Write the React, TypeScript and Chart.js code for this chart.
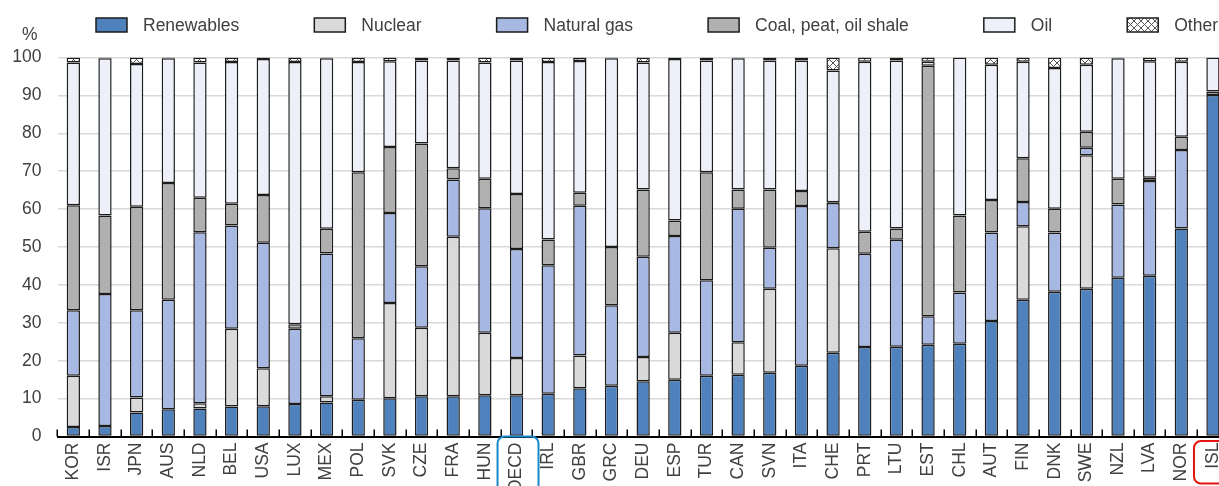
import React, { useEffect, useRef } from "react";
import { Chart, registerables } from "chart.js";

Chart.register(...registerables);

const categories = ["KOR","ISR","JPN","AUS","NLD","BEL","USA","LUX","MEX","POL","SVK","CZE","FRA","HUN","OECD","IRL","GBR","GRC","DEU","ESP","TUR","CAN","SVN","ITA","CHE","PRT","LTU","EST","CHL","AUT","FIN","DNK","SWE","NZL","LVA","NOR","ISL"];

const renewables = [2.5,2.8,6.3,7.2,7.4,7.9,8.0,8.6,9.0,9.7,10.1,10.6,10.6,10.9,10.9,11.3,12.7,13.4,14.6,15.0,16.0,16.3,16.8,18.7,22.1,23.6,23.7,24.2,24.5,30.5,36.1,38.2,39.0,41.9,42.4,54.9,90.1];
const nuclear = [13.5,0,4.0,0,1.4,20.5,10.0,0,1.6,0,25.1,18.1,42.1,16.5,9.8,0,8.7,0,6.4,12.4,0,8.6,22.2,0,27.6,0,0,0,0,0,19.4,0,35.2,0,0,0,0];
const naturalGas = [17.3,34.8,23.0,28.9,45.1,27.3,33.1,19.8,37.7,16.2,23.8,16.2,15.1,32.8,28.8,33.9,39.5,21.2,26.4,25.5,25.2,35.2,10.8,42.1,11.9,24.6,28.2,7.5,13.5,23.3,6.4,15.6,2.0,19.3,25.0,20.7,0];
const coal = [27.7,20.7,27.3,30.8,9.1,5.7,12.6,1.2,6.5,43.8,17.4,32.4,3.0,7.8,14.5,6.8,3.4,15.4,17.8,4.1,28.5,5.1,15.4,4.0,0.2,5.8,3.0,66.1,20.3,8.6,11.5,6.3,4.2,6.8,0.9,3.5,0.9];
const oil = [37.7,41.5,37.7,32.9,35.7,37.4,35.9,69.2,45.0,29.1,22.6,21.9,28.4,30.7,35.2,46.8,34.8,49.8,33.5,42.6,29.5,34.6,34.0,34.4,34.8,44.9,44.3,1.1,41.7,35.7,25.5,37.1,17.7,31.8,30.7,19.8,9.0];
const other = [1.3,0.2,1.7,0.2,1.3,1.2,0.4,1.2,0.2,1.2,1.0,0.8,0.8,1.3,0.8,1.2,0.9,0.2,1.3,0.4,0.8,0.2,0.8,0.8,3.4,1.1,0.8,1.1,0,1.9,1.1,2.8,1.9,0.2,1.0,1.1,0];

const yTicks = [0,10,20,30,40,50,60,70,80,90,100];
const seriesNames = ["Renewables","Nuclear","Natural gas","Coal, peat, oil shale","Oil","Other"];
const highlighted = [
  { label: "OECD", color: "#1b87c9", top: 0, height: 70 },
  { label: "ISL", color: "#e3160f", top: 4.5, height: 42.5 },
];

const FONT = "'Liberation Sans', Arial, sans-serif";
const FSIZE = 17.5;
const TEXT = "#404040";
const BORDER = "#1c1c1c";

function makeHatch(): CanvasPattern | string {
  const c = document.createElement("canvas");
  c.width = 7; c.height = 7;
  const g = c.getContext("2d");
  if (!g) return "#ffffff";
  g.fillStyle = "#ffffff";
  g.fillRect(0, 0, 7, 7);
  g.strokeStyle = "#555555";
  g.lineWidth = 1;
  g.beginPath();
  g.moveTo(0, 0); g.lineTo(7, 7);
  g.moveTo(7, 0); g.lineTo(0, 7);
  g.stroke();
  return g.createPattern(c, "repeat") || "#ffffff";
}

const nz = (arr: number[]) => arr.map((v) => (v === 0 ? null : v));

export default function App() {
  const ref = useRef<HTMLCanvasElement | null>(null);

  useEffect(() => {
    document.body.style.margin = "0";
    document.body.style.overflow = "hidden";
    const canvas = ref.current;
    if (!canvas) return;
    const hatch = makeHatch();
    const colors = ["#4f81bd", "#dadada", "#a7b8e2", "#b0b0b0", "#edf0f8", hatch];
    const values = [renewables, nuclear, naturalGas, coal, oil, other];

    const legendPlugin = {
      id: "customLegend",
      afterDraw(chart: any) {
        const ctx = chart.ctx;
        ctx.save();
        ctx.font = `${FSIZE}px ${FONT}`;
        ctx.textBaseline = "middle";
        let x = 96;
        const yc = 25;
        chart.data.datasets.forEach((ds: any) => {
          ctx.fillStyle = ds.backgroundColor;
          ctx.fillRect(x, yc - 7, 31, 14);
          ctx.strokeStyle = BORDER;
          ctx.lineWidth = 1.5;
          ctx.strokeRect(x, yc - 7, 31, 14);
          ctx.fillStyle = TEXT;
          ctx.textAlign = "left";
          ctx.fillText(ds.label, x + 47, yc + 1);
          x += 47 + ctx.measureText(ds.label).width + 75;
        });
        ctx.restore();
      },
    };

    const decorPlugin = {
      id: "decor",
      afterDatasetsDraw(chart: any) {
        const ctx = chart.ctx;
        const xs = chart.scales.x;
        const ys = chart.scales.y;
        const bottom = ys.getPixelForValue(0);
        const step = xs.getPixelForValue(1) - xs.getPixelForValue(0);
        ctx.save();
        ctx.strokeStyle = "#000";
        ctx.lineWidth = 1.5;
        ctx.beginPath();
        for (let i = 0; i <= categories.length; i++) {
          const x = Math.round(xs.getPixelForValue(i) - step / 2) + 0.25;
          ctx.moveTo(x, bottom);
          ctx.lineTo(x, bottom - 7);
        }
        ctx.stroke();
        ctx.restore();
      },
      afterDraw(chart: any) {
        const ctx = chart.ctx;
        const xs = chart.scales.x;
        const ys = chart.scales.y;
        const bottom = ys.getPixelForValue(0);
        ctx.save();
        ctx.font = `${FSIZE}px ${FONT}`;
        ctx.fillStyle = TEXT;
        ctx.textAlign = "right";
        ctx.textBaseline = "middle";
        ctx.fillText("%", chart.chartArea.left - 20, ys.getPixelForValue(100) - 22);
        highlighted.forEach((h) => {
          const idx = categories.indexOf(h.label);
          if (idx < 0) return;
          const cx = xs.getPixelForValue(idx);
          ctx.strokeStyle = h.color;
          ctx.lineWidth = 2;
          ctx.beginPath();
          (ctx as any).roundRect(cx - 19, bottom + h.top, 41, h.height, 7);
          ctx.stroke();
        });
        ctx.restore();
      },
    };

    const chart = new Chart(canvas, {
      type: "bar",
      data: {
        labels: categories,
        datasets: values.map((v, i) => ({
          label: seriesNames[i],
          data: nz(v),
          backgroundColor: colors[i] as any,
          borderColor: BORDER,
          borderWidth: 1.5,
          borderSkipped: false,
          barPercentage: 0.42,
          categoryPercentage: 1,
        })),
      },
      options: {
        animation: false,
        responsive: false,
        maintainAspectRatio: false,
        layout: { padding: { top: 57.5, left: 0, right: 2, bottom: 0 } },
        plugins: { legend: { display: false }, tooltip: { enabled: false } },
        scales: {
          x: {
            stacked: true,
            grid: { display: false },
            border: { display: true, color: "#000", width: 2 },
            ticks: {
              autoSkip: false,
              minRotation: 90,
              maxRotation: 90,
              padding: -2,
              color: TEXT,
              font: { family: FONT, size: FSIZE },
            },
            afterFit(scale: any) { scale.height = 49.5; },
          },
          y: {
            stacked: true,
            min: 0,
            max: 100,
            afterBuildTicks(scale: any) { scale.ticks = yTicks.map((v) => ({ value: v })); },
            grid: { color: "#d9d9d9", lineWidth: 1.5, drawTicks: false },
            border: { display: false },
            ticks: {
              padding: 16,
              color: TEXT,
              font: { family: FONT, size: FSIZE },
            },
            afterFit(scale: any) { scale.width = 57.5; },
          },
        },
      },
      plugins: [legendPlugin, decorPlugin],
    });
    return () => chart.destroy();
  }, []);

  return (
    <div style={{ width: 1219, height: 486, overflow: "hidden", position: "relative" }}>
      <canvas ref={ref} width={1232} height={486} style={{ display: "block", width: 1232, height: 486 }} />
    </div>
  );
}
